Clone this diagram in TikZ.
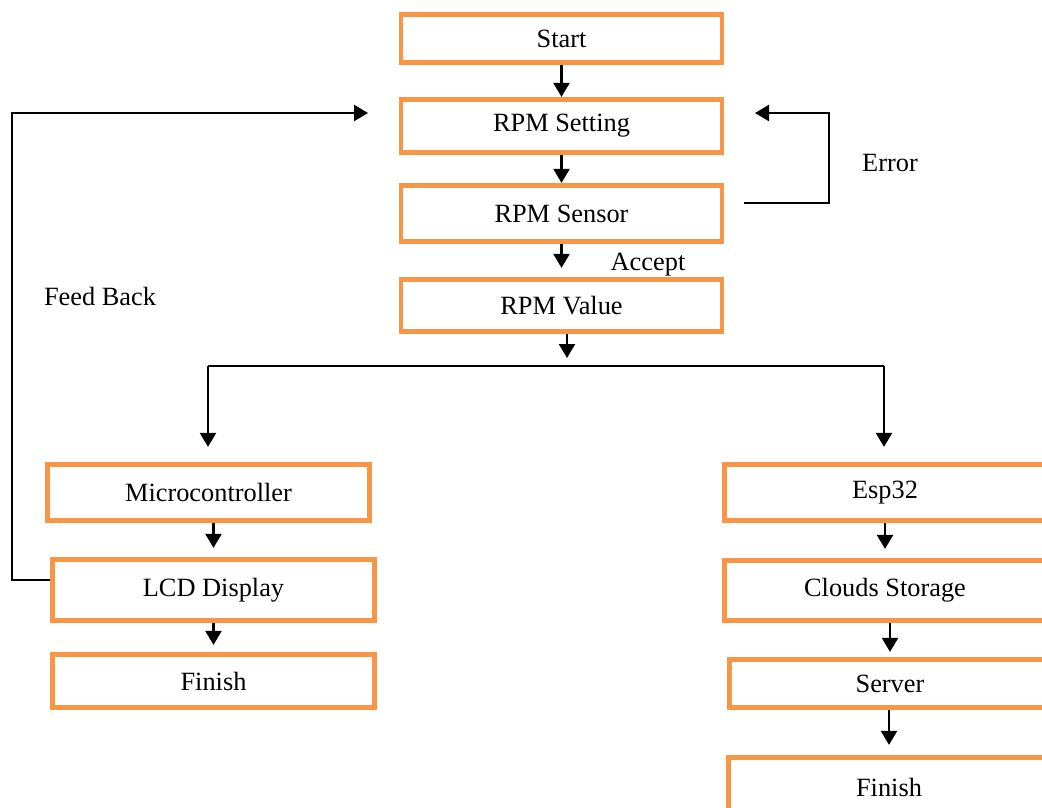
\documentclass[tikz,border=0pt]{standalone}
\usepackage{fontspec}
\setmainfont{Liberation Serif}
\usetikzlibrary{arrows.meta,calc}
\definecolor{boxorange}{HTML}{F79646}

\begin{document}
\begin{tikzpicture}[
  x=0.02cm, y=-0.02cm,
  font=\fontsize{15}{18}\selectfont,
  >={Triangle[length=2.8mm,width=3.2mm]},
  stepbox/.style={draw=boxorange, line width=2.7pt, fill=white,
                  minimum width=6.42cm, minimum height=1.1cm, inner sep=0pt},
  ar/.style={->, draw=black, line width=1.3pt},
  ln/.style={draw=black, line width=1.3pt},
  lbl/.style={inner sep=0pt}
]
\useasboundingbox (0,0) rectangle (1042,808);
\clip (0,0) rectangle (1042,808);
\fill[white] (0,0) rectangle (1042,808);

% ===== main column =====
\node[stepbox, minimum height=0.97cm] (start)   at (561.5,38.5)  {\raisebox{-2pt}{Start}};
\node[stepbox, minimum height=1.07cm] (setting) at (561.5,126)   {RPM Setting};
\node[stepbox, minimum height=1.13cm] (sensor)  at (561.5,213.5) {RPM Sensor};
\node[stepbox, minimum height=1.05cm] (value)   at (561.5,305.5) {RPM Value};

\draw[ar] (start) -- (setting);
\draw[ar] (setting) -- (sensor);
\draw[ar, shorten >=1.8mm] (sensor) -- (value);

% ===== branch =====
\coordinate (split) at (567,366);
\coordinate (brL) at (208,366);
\coordinate (brR) at (884,366);
\draw[ar, shorten >=1.6mm] (value.south -| split) -- (split);
\draw[ln] (brL) -- (brR);

% ===== left column =====
\node[stepbox, minimum width=6.45cm, minimum height=1.13cm] (micro)   at (208.5,492.5) {Microcontroller};
\node[stepbox, minimum width=6.45cm, minimum height=1.23cm] (lcd)     at (213.5,590)   {LCD Display};
\node[stepbox, minimum width=6.45cm, minimum height=1.07cm] (finishL) at (213.5,681)   {Finish};

\draw[ar, shorten >=3mm] (brL) -- (micro.north -| brL);
\draw[ar, shorten >=1.8mm] (micro.south -| lcd) -- (lcd.north);
\draw[ar, shorten >=1.4mm] (lcd) -- (finishL);

% ===== right column =====
\node[stepbox, minimum width=6.43cm, minimum height=1.13cm] (esp)     at (885,492.5) {Esp32};
\node[stepbox, minimum width=6.43cm, minimum height=1.21cm] (cloud)   at (885,590.5) {Clouds Storage};
\node[stepbox, minimum width=6.43cm, minimum height=0.97cm] (server)  at (890,683.5) {Server};
\node[stepbox, minimum width=6.43cm, minimum height=1.19cm] (finishR) at (889,787)   {Finish};

\draw[ar, shorten >=3mm] (brR) -- (esp.north -| brR);
\draw[ar, shorten >=1.8mm] (esp) -- (cloud);
\draw[ar, shorten >=1mm] (cloud.south -| server) -- (server.north);
\draw[ar, shorten >=2mm] (server.south -| finishR) -- (finishR.north);

% ===== loops =====
\coordinate (errOut)  at (744,203);
\coordinate (errTurn) at (829,113);
\coordinate (errIn)   at (755,113);
\draw[ar] (errOut) -| (errTurn) -- (errIn);

\coordinate (fbOut)  at ($(lcd.west)+(0,-10)$);
\coordinate (fbTurn) at (12,113);
\coordinate (fbIn)   at (368,113);
\draw[ar] (fbOut) -| (fbTurn) -- (fbIn);

% ===== labels =====
\node[lbl] (errTxt) at (890,163) {Error};
\node[lbl] (accTxt) at (648,265) {Accept};
\node[lbl] (fbTxt)  at (100,296) {Feed Back};
\end{tikzpicture}
\end{document}
